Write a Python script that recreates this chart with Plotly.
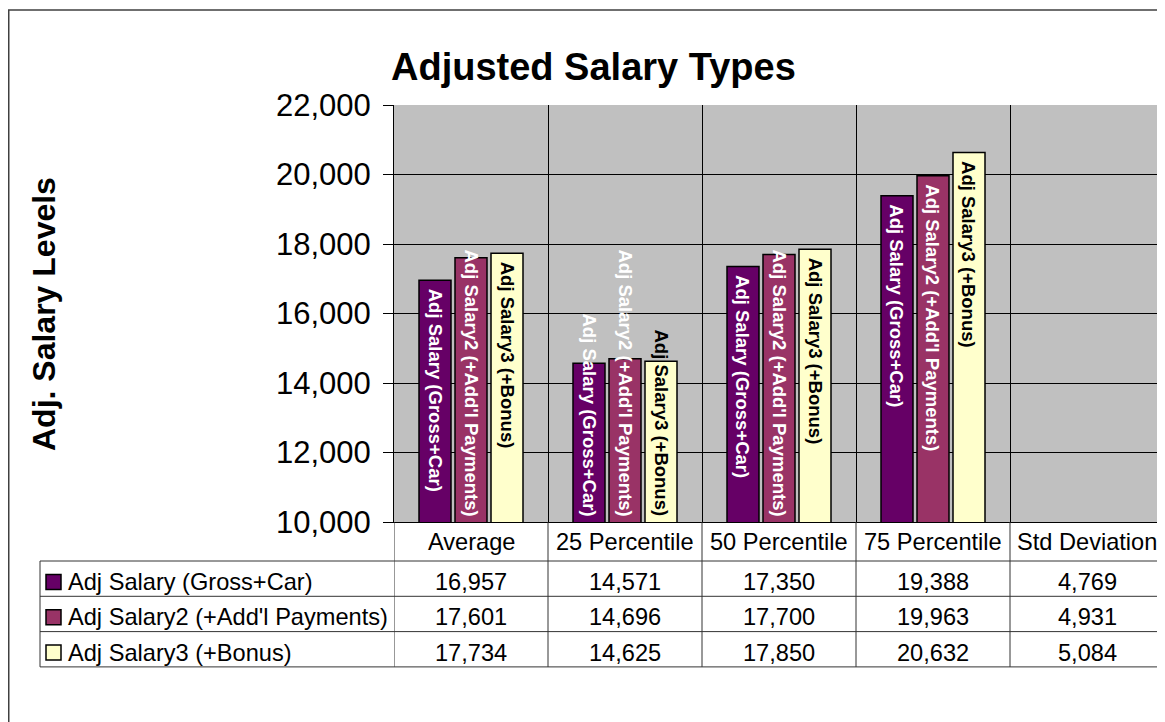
import plotly.graph_objects as go

# ---------------- data ----------------
categories = ["Average", "25 Percentile", "50 Percentile", "75 Percentile", "Std Deviation"]
series_names = ["Adj Salary (Gross+Car)", "Adj Salary2 (+Add'l Payments)", "Adj Salary3 (+Bonus)"]
salary1 = [16957, 14571, 17350, 19388, 4769]
salary2 = [17601, 14696, 17700, 19963, 4931]
salary3 = [17734, 14625, 17850, 20632, 5084]
y_ticks = [10000, 12000, 14000, 16000, 18000, 20000, 22000]

series_values = [salary1, salary2, salary3]
colors = ["#660066", "#993366", "#FFFFCC"]
label_colors = ["white", "white", "black"]

# ---------------- layout constants ----------------
# page coordinates are offset by the 8px body margin of the html page
OFF = 8
W, H = 1165, 722
L, T, B = 394 - OFF, 105 - OFF, 522 - OFF   # plot-area pixel edges (figure coords)
R = L + 770
PW = R - L
PH = B - T
YMIN, YMAX = y_ticks[0], y_ticks[-1]
BARGAP = 0.2987
BARGROUPGAP = 0.111
SLOT = (1 - BARGAP) / 3
FONT = "Liberation Sans, Arial, sans-serif"


def px_x(p):
    """page pixel x -> paper"""
    return (p - OFF - L) / PW


def px_y(p):
    """page pixel y -> paper"""
    return (B - (p - OFF)) / PH


fig = go.Figure()
idx = list(range(len(categories)))
for name, vals, col in zip(series_names, series_values, colors):
    fig.add_trace(go.Bar(
        x=idx, y=vals, name=name,
        marker=dict(color=col, line=dict(color="black", width=1.5)),
        showlegend=False, hoverinfo="x+y",
    ))

annotations = []
shapes = []

# bar labels (series name, rotated)
LABEL_FS = 18.5
for j, (name, vals) in enumerate(zip(series_names, series_values)):
    for i, v in enumerate(vals):
        if v <= YMIN:
            continue
        bar_px = (v - YMIN) * PH / (YMAX - YMIN)
        est_len = 9.2 * len(name)
        xpos = i + (j - 1) * SLOT
        if est_len + 12 <= bar_px:
            annotations.append(dict(
                x=xpos, y=v, xref="x", yref="y", text=name, showarrow=False,
                textangle=90, yanchor="top", xanchor="center", yshift=-6,
                font=dict(family=FONT, size=LABEL_FS, color=label_colors[j], weight="bold")))
        else:
            annotations.append(dict(
                x=xpos, y=YMIN, xref="x", yref="y", text=name, showarrow=False,
                textangle=90, yanchor="bottom", xanchor="center", yshift=4,
                font=dict(family=FONT, size=LABEL_FS, color=label_colors[j], weight="bold")))

# title
annotations.append(dict(
    x=px_x(593), y=px_y(67), xref="paper", yref="paper", text="<b>Adjusted Salary Types</b>",
    showarrow=False, xanchor="center", yanchor="middle",
    font=dict(family=FONT, size=38, color="black")))
# y-axis title
annotations.append(dict(
    x=px_x(44), y=px_y(314), xref="paper", yref="paper", text="<b>Adj. Salary Levels</b>",
    showarrow=False, xanchor="center", yanchor="middle", textangle=-90,
    font=dict(family=FONT, size=32, color="black")))

# ---------------- data table ----------------
TABLE_FS = 23.6
TBL_LEFT = 40
HEADER_BOTTOM = 561
ROW_H = 35.3
TLINE = "#333333"

# header labels
for i, c in enumerate(categories):
    annotations.append(dict(
        x=i, y=px_y(541.5), xref="x", yref="paper", text=c, showarrow=False,
        xanchor="center", yanchor="middle", font=dict(family=FONT, size=TABLE_FS, color="black")))

# vertical lines for columns
for k in range(len(categories) + 1):
    shapes.append(dict(type="line", xref="x", yref="paper", x0=k - 0.5, x1=k - 0.5,
                       y0=0, y1=px_y(HEADER_BOTTOM + 3 * ROW_H),
                       line=dict(color=TLINE, width=1)))
# left table border
shapes.append(dict(type="line", xref="paper", yref="paper", x0=px_x(TBL_LEFT), x1=px_x(TBL_LEFT),
                   y0=px_y(HEADER_BOTTOM), y1=px_y(HEADER_BOTTOM + 3 * ROW_H),
                   line=dict(color=TLINE, width=1)))
# horizontal table lines
for r in range(4):
    yy = HEADER_BOTTOM + r * ROW_H
    shapes.append(dict(type="line", xref="paper", yref="paper", x0=px_x(TBL_LEFT), x1=px_x(W + 20),
                       y0=px_y(yy), y1=px_y(yy), line=dict(color=TLINE, width=1)))

for j, (name, vals) in enumerate(zip(series_names, series_values)):
    top = HEADER_BOTTOM + j * ROW_H
    cy = top + 21
    # legend key
    shapes.append(dict(type="rect", xref="paper", yref="paper",
                       x0=px_x(46), x1=px_x(61), y0=px_y(cy - 7.5), y1=px_y(cy + 7.5),
                       fillcolor=colors[j], line=dict(color="black", width=1.5)))
    annotations.append(dict(
        x=px_x(66), y=px_y(cy), xref="paper", yref="paper", text=name, showarrow=False,
        xanchor="left", yanchor="middle", font=dict(family=FONT, size=TABLE_FS, color="black")))
    for i, v in enumerate(vals):
        annotations.append(dict(
            x=i, y=px_y(cy), xref="x", yref="paper", text=f"{v:,}", showarrow=False,
            xanchor="center", yanchor="middle", font=dict(family=FONT, size=TABLE_FS, color="black")))

# outer chart frame
shapes.append(dict(type="rect", xref="paper", yref="paper",
                   x0=px_x(8.75), x1=px_x(W + 40), y0=px_y(10), y1=px_y(H + 40),
                   line=dict(color="#404040", width=1.5), fillcolor="rgba(0,0,0,0)"))

fig.update_layout(
    width=W, height=H,
    margin=dict(l=L, r=W - R, t=T, b=H - B, pad=0),
    paper_bgcolor="white", plot_bgcolor="#C0C0C0",
    barmode="group", bargap=BARGAP, bargroupgap=BARGROUPGAP,
    font=dict(family=FONT, color="black"),
    annotations=annotations, shapes=shapes,
    xaxis=dict(range=[-0.5, len(categories) - 0.5], tick0=-0.5, dtick=1,
               showticklabels=False, ticks="", showgrid=True, gridcolor="black", gridwidth=1,
               zeroline=False, showline=True, linecolor="black", linewidth=1),
    yaxis=dict(range=[YMIN, YMAX], tickvals=y_ticks, tickformat=",", ticks="outside",
               ticklen=10, tickcolor="black", tickwidth=1, ticklabelstandoff=6,
               tickfont=dict(family=FONT, size=31, color="black"),
               showgrid=True, gridcolor="black", gridwidth=1, zeroline=False,
               showline=True, linecolor="black", linewidth=1),
)

fig.write_html("out.html")
